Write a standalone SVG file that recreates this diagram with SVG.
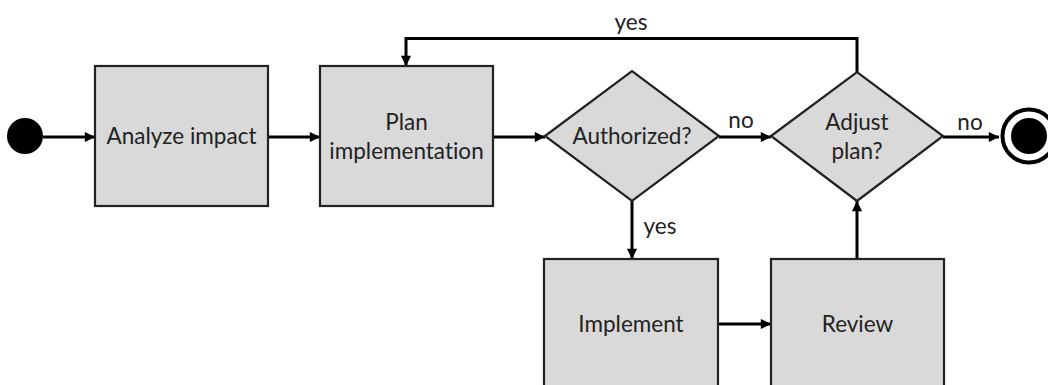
<svg xmlns="http://www.w3.org/2000/svg" width="1048" height="385" viewBox="0 0 1048 385">
<style>
.box{fill:#d9d9d9;stroke:#222;stroke-width:2.2}
.lbl{font-family:Lato,"Open Sans","Liberation Sans",sans-serif;font-size:22.5px;fill:#222;text-anchor:middle;font-variant-ligatures:none}
.edge{fill:none;stroke:#000;stroke-width:3;marker-end:url(#arr)}
</style>
<defs>
<marker id="arr" viewBox="0 0 10 10" refX="10" refY="5" markerWidth="4" markerHeight="3.4" orient="auto" markerUnits="strokeWidth"><path d="M0,0 L10,5 L0,10 z" fill="#000"/></marker>
</defs>
<rect width="1048" height="385" fill="#fff"/>
<g id="connectors">
<path class="edge" d="M43,137 H95"/>
<path class="edge" d="M268,137 H320"/>
<path class="edge" d="M493,137 H545"/>
<path class="edge" d="M719,137 H771"/>
<path class="edge" d="M943,137 H999"/>
<path class="edge" d="M632,201 V259"/>
<path class="edge" d="M718,324 H771"/>
<path class="edge" d="M857,259 V201"/>
<path class="edge" d="M857,72 V38.5 H406 V66"/>
<text class="lbl" x="631" y="30">yes</text>
<text class="lbl" x="741" y="128">no</text>
<text class="lbl" x="970" y="130">no</text>
<text class="lbl" x="660" y="234">yes</text>
</g>
<g id="start"><circle cx="25" cy="136" r="18" fill="#000"/></g>
<g id="analyze"><rect class="box" x="95" y="66" width="173" height="140"/><text class="lbl" x="181.5" y="144">Analyze impact</text></g>
<g id="plan"><rect class="box" x="320" y="66" width="173" height="140"/><text class="lbl" x="406.5" y="130">Plan</text><text class="lbl" x="406.5" y="159">implementation</text></g>
<g id="authorized"><polygon class="box" points="545,136 632,71 719,136 632,201"/><text class="lbl" x="632" y="144">Authorized?</text></g>
<g id="adjust"><polygon class="box" points="771,136 857,72 943,136 857,201"/><text class="lbl" x="857" y="130">Adjust</text><text class="lbl" x="857" y="159">plan?</text></g>
<g id="implement"><rect class="box" x="544" y="259" width="174" height="140"/><text class="lbl" x="631" y="332">Implement</text></g>
<g id="review"><rect class="box" x="771" y="259" width="173" height="140"/><text class="lbl" x="857.5" y="332">Review</text></g>
<g id="end"><circle cx="1029" cy="136" r="26.5" fill="#fff" stroke="#000" stroke-width="4"/><circle cx="1029" cy="136" r="18" fill="#000"/></g>
</svg>
